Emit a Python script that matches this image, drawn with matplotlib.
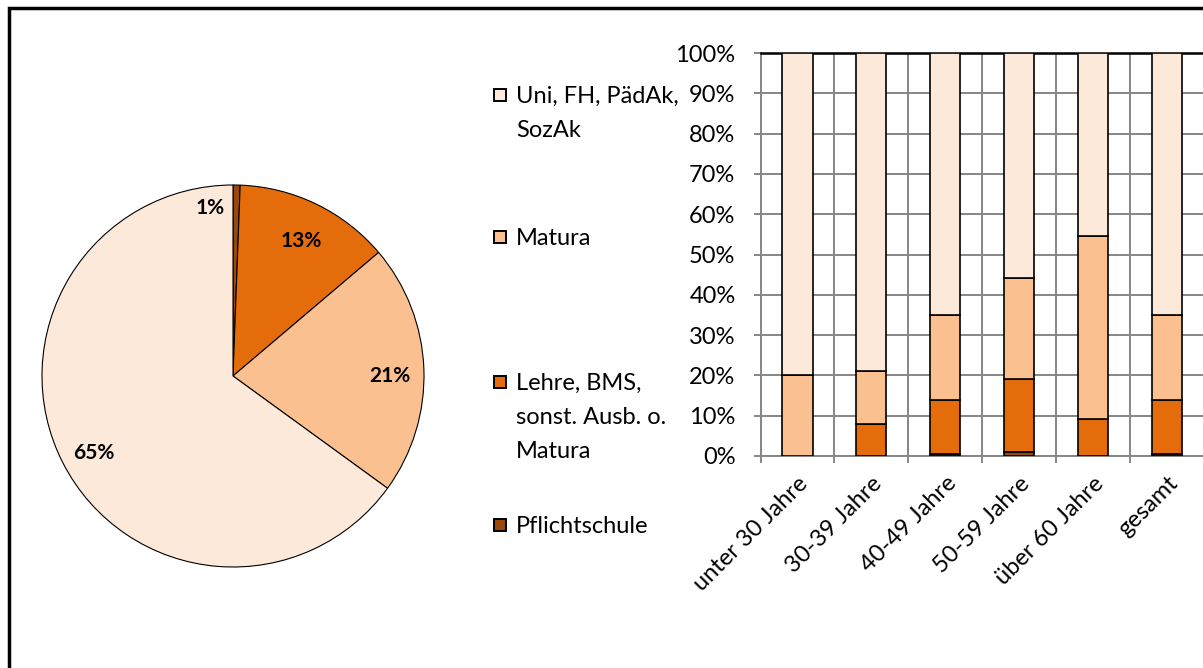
import numpy as np
import matplotlib
matplotlib.use("Agg")
import matplotlib.pyplot as plt
from matplotlib.patches import Rectangle

plt.rcParams['font.family'] = ['Lato', 'DejaVu Sans']

# data (shares per education level, bottom to top)
groups = ['unter 30 Jahre', '30-39 Jahre', '40-49 Jahre', '50-59 Jahre', 'über 60 Jahre', 'gesamt']
levels = ['Pflichtschule', 'Lehre, BMS,\nsonst. Ausb. o.\nMatura', 'Matura', 'Uni, FH, PädAk,\nSozAk']
pflicht = [0.0, 0.0, 0.6, 0.9, 0.0, 0.6]
lehre = [0.0, 7.9, 13.2, 18.3, 9.1, 13.2]
matura = [20.0, 13.2, 21.1, 25.0, 45.4, 21.2]
uni = [80.0, 78.9, 65.1, 55.8, 45.5, 65.0]
pie_vals = [0.6, 13.2, 21.2, 65.0]  # gesamt
colors = ['#984807', '#E46C0A', '#FAC090', '#FDE9D9']

W, H = 1203, 668
fs = 17
fig = plt.figure(figsize=(W/100, H/100), dpi=100)

# outer frame
fig.add_artist(Rectangle((8.5/W, -0.1), 1.2, (H-8)/H + 0.1, transform=fig.transFigure,
                         fill=False, edgecolor='black', linewidth=2.5))

#### pie ####
cx, cy, r = 233, 376, 191
axp = fig.add_axes([(cx-r)/W, (H-cy-r)/H, 2*r/W, 2*r/H])
wedges, texts, autotexts = axp.pie(pie_vals, colors=colors, startangle=90, counterclock=False,
                                   autopct='%.0f%%', pctdistance=0.82,
                                   wedgeprops=dict(edgecolor='black', linewidth=0.8),
                                   textprops=dict(fontsize=15, fontweight='bold'))
axp.set_xlim(-1, 1)
axp.set_ylim(-1, 1)
axp.set_aspect('equal')
for t in autotexts:
    px, py = t.get_position()
    t.set_position((px, py - 0.03))
# small slice label moved left of the wedge
autotexts[0].set_position((-0.12, 0.88))

#### stacked bars ####
x0, ytop, ybot = 760.5, 53, 456
cw = 73.9
ncat = 7
axb = fig.add_axes([x0/W, (H-ybot)/H, ncat*cw/W, (ybot-ytop)/H])
x = np.arange(len(groups))
bw = 0.41
series = [pflicht, lehre, matura, uni]
bottom = np.zeros(len(groups))
for vals, c in zip(series, colors):
    v = np.array(vals)/100
    axb.bar(x, v, bw, bottom=bottom, color=c, edgecolor='black', linewidth=1.2, zorder=3)
    bottom += v
axb.set_xlim(-0.5, ncat-0.5)
axb.set_ylim(0, 1)
axb.set_yticks(np.arange(0, 1.01, 0.1))
axb.set_yticklabels(['%d%%' % v for v in range(0, 101, 10)], fontsize=fs)
axb.set_xticks(x)
axb.set_xticklabels(groups, rotation=45, ha='right', rotation_mode='anchor', fontsize=fs)
axb.set_xticks(np.arange(-0.5, ncat, 1), minor=True)
axb.tick_params(axis='x', which='major', length=0, pad=12)
axb.tick_params(axis='x', which='minor', length=5, width=1.4, color='#868686')
axb.tick_params(axis='y', length=5, width=1.4, color='#868686', pad=13)
axb.grid(axis='y', color='#868686', linewidth=1.4, zorder=0)
axb.grid(axis='x', which='minor', color='#868686', linewidth=1.4, zorder=0)
for s in ['left', 'bottom']:
    axb.spines[s].set_color('#868686')
    axb.spines[s].set_linewidth(1.4)
axb.spines['right'].set_visible(False)
axb.spines['top'].set_color('black')
axb.spines['top'].set_linewidth(1.8)
axb.set_axisbelow(True)

#### legend (manual, order top to bottom) ####
leg_y = [95, 237, 382, 525]
for lab, c, yy in zip(levels[::-1], colors[::-1], leg_y):
    fig.add_artist(Rectangle((494/W, (H-yy-6)/H), 12/W, 12/H, transform=fig.transFigure,
                             facecolor=c, edgecolor='black', linewidth=1.4))
    fig.text(516/W, (H-yy+9)/H, lab, fontsize=fs, va='top', ha='left', linespacing=1.76)

fig.savefig('out.png', dpi=100)
